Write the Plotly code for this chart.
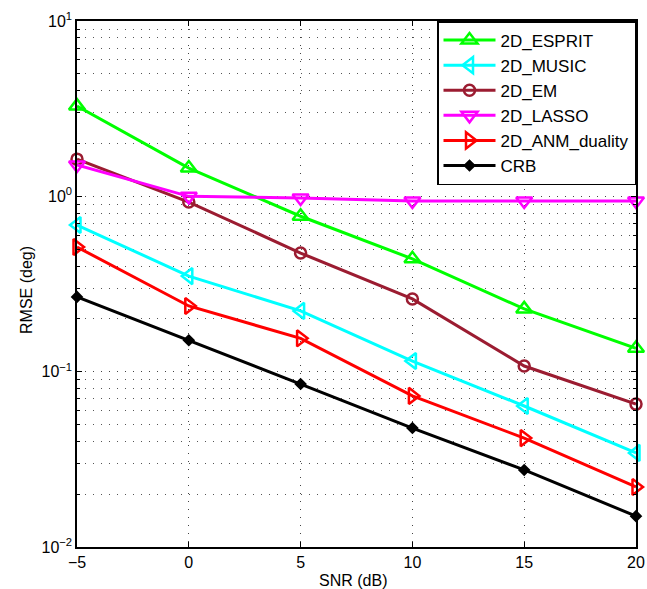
import plotly.graph_objects as go

snr = [-5, 0, 5, 10, 15, 20]
esprit = [3.27, 1.45, 0.77, 0.44, 0.228, 0.136]
music = [0.686, 0.351, 0.222, 0.115, 0.0637, 0.0344]
em = [1.63, 0.928, 0.475, 0.26, 0.1077, 0.0653]
lasso = [1.51, 1.0, 0.978, 0.94, 0.94, 0.94]
anm = [0.514, 0.237, 0.155, 0.0727, 0.0418, 0.022]
crb = [0.267, 0.151, 0.085, 0.0477, 0.0275, 0.015]

x_ticks = [-5, 0, 5, 10, 15, 20]
x_ticktext = ["\u22125", "0", "5", "10", "15", "20"]
y_ticks = [0.01, 0.1, 1, 10]
y_ticktext = ["10<sup>\u22122</sup>", "10<sup>\u22121</sup>", "10<sup>0</sup>", "10<sup>1</sup>"]

series = [
    ("2D_ESPRIT", esprit, "#00ff00", "triangle-up-open", 14),
    ("2D_MUSIC", music, "#00ffff", "triangle-left-open", 14),
    ("2D_EM", em, "#9b1c31", "circle-open", 11),
    ("2D_LASSO", lasso, "#ff00ff", "triangle-down-open", 14),
    ("2D_ANM_duality", anm, "#ff0000", "triangle-right-open", 14),
    ("CRB", crb, "#000000", "diamond", 7),
]

fig = go.Figure()
for name, vals, col, sym, sz in series:
    fig.add_trace(go.Scatter(
        x=snr, y=vals, name=name, mode="lines+markers",
        line=dict(color=col, width=3),
        marker=dict(symbol=sym, size=sz, color=col, line=dict(color=col, width=2.5)),
        cliponaxis=False,
    ))

font = "Liberation Sans, Arial, sans-serif"
grid_dash = "1px,7px"
fig.update_layout(
    width=647, height=589,
    margin=dict(l=77, r=11, t=21, b=42),
    paper_bgcolor="white", plot_bgcolor="white",
    font=dict(family=font, size=16, color="black"),
    showlegend=True,
    legend=dict(
        x=1, y=1, xanchor="right", yanchor="top",
        bordercolor="black", borderwidth=1.5, bgcolor="white",
        font=dict(size=17, family=font), tracegroupgap=0,
        itemwidth=52,
    ),
    xaxis=dict(
        range=[-5, 20], tickvals=x_ticks, ticktext=x_ticktext,
        showline=True, linecolor="black", linewidth=1.5, mirror="ticks",
        ticks="inside", ticklen=5, tickcolor="black",
        showgrid=True, gridcolor="#444444", griddash=grid_dash, gridwidth=1,
        zeroline=False, automargin=False,
        tickfont=dict(size=16),
    ),
    yaxis=dict(
        type="log", range=[-2, 1], tickvals=y_ticks, ticktext=y_ticktext,
        showline=True, linecolor="black", linewidth=1.5, mirror="ticks",
        ticks="inside", ticklen=5, tickcolor="black",
        showgrid=True, gridcolor="#444444", griddash=grid_dash, gridwidth=1,
        zeroline=False, automargin=False,
        minor=dict(dtick="D1", showgrid=True, gridcolor="#555555", griddash=grid_dash,
                   ticks="inside", ticklen=3, tickcolor="black"),
        tickfont=dict(size=16),
    ),
    annotations=[
        dict(text="SNR (dB)", x=0.5, y=580, xref="paper", yref="paper",
             showarrow=False, font=dict(size=16), xanchor="center", yanchor="middle"),
    ],
)
# axis titles positioned in pixel terms via paper coordinates
plot_h = 589 - 21 - 42
plot_w = 647 - 77 - 11
fig.layout.annotations[0].update(x=(353 - 77) / plot_w, y=-(580 - 547) / plot_h)
fig.add_annotation(text="RMSE (deg)", textangle=-90, xref="paper", yref="paper",
                   x=-(77 - 26) / plot_w, y=(547 - 290) / plot_h, showarrow=False,
                   font=dict(size=16), xanchor="center", yanchor="middle")

fig.write_html("out.html")
